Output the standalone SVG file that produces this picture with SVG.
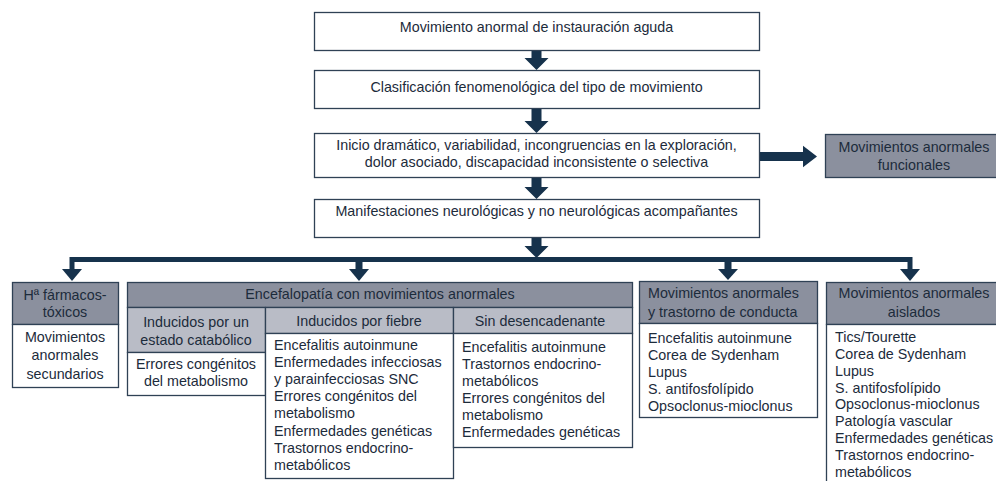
<svg xmlns="http://www.w3.org/2000/svg" width="996" height="481" viewBox="0 0 996 481">
<style>
text{font-family:"Liberation Sans",Arial,sans-serif;font-size:14.3px;fill:#1c2b3b}
.c{text-anchor:middle}
.box{fill:#fff;stroke:#2f4155;stroke-width:1.3}
.hd{fill:#8b909e;stroke:#2f4155;stroke-width:1.3}
.sh{fill:#b9bcc6;stroke:#2f4155;stroke-width:1.3}
.ar{fill:#16324c}
.ln{fill:none;stroke:#16324c;stroke-width:5;stroke-linejoin:miter}
</style>
<rect width="996" height="481" fill="#fff"/>

<g id="connectors">
<polygon class="ar" points="531.5,51 541.5,51 541.5,58 548.5,58 536.5,70 524.5,58 531.5,58"/>
<polygon class="ar" points="531.5,109 541.5,109 541.5,121 548.5,121 536.5,133 524.5,121 531.5,121"/>
<polygon class="ar" points="531.5,178 541.5,178 541.5,187 548.5,187 536.5,199 524.5,187 531.5,187"/>
<polygon class="ar" points="531.5,238 541.5,238 541.5,246 548.5,246 536.5,258 524.5,246 531.5,246"/>
<polygon class="ar" points="759,152 803,152 803,145.7 817,156.5 803,167.3 803,161 759,161"/>
<path class="ln" d="M72,270 V259.5 H910 V270"/>
<polygon class="ar" points="62,269 82,269 72,281"/>
<rect class="ar" x="355.5" y="259" width="7" height="11"/>
<polygon class="ar" points="349,269 369,269 359,281"/>
<rect class="ar" x="724.5" y="259" width="7" height="11"/>
<polygon class="ar" points="718,269 738,269 728,280"/>
<polygon class="ar" points="900,269 920,269 910,281"/>
</g>

<g id="n1">
<rect class="box" x="314.5" y="12.5" width="445" height="38"/>
<text class="c" x="536.5" y="32">Movimiento anormal de instauración aguda</text>
</g>
<g id="n2">
<rect class="box" x="314.5" y="70.5" width="445" height="38"/>
<text class="c" x="536.5" y="92">Clasificación fenomenológica del tipo de movimiento</text>
</g>
<g id="n3">
<rect class="box" x="314.5" y="133.5" width="445" height="44"/>
<text class="c" x="536.5" y="150">Inicio dramático, variabilidad, incongruencias en la exploración,</text>
<text class="c" x="536.5" y="167">dolor asociado, discapacidad inconsistente o selectiva</text>
</g>
<g id="n4">
<rect class="box" x="314.5" y="199.5" width="445" height="38"/>
<text class="c" x="536.5" y="216">Manifestaciones neurológicas y no neurológicas acompañantes</text>
</g>
<g id="funcionales">
<rect class="hd" x="825.5" y="134.5" width="180" height="43"/>
<text class="c" x="914" y="152">Movimientos anormales</text>
<text class="c" x="914" y="170">funcionales</text>
</g>

<g id="farmacos">
<rect class="hd" x="12.5" y="282.5" width="106" height="42"/>
<rect class="box" x="12.5" y="324.5" width="106" height="63"/>
<text class="c" x="65" y="300">Hª fármacos-</text>
<text class="c" x="65" y="317">tóxicos</text>
<text class="c" x="65" y="342">Movimientos</text>
<text class="c" x="65" y="360">anormales</text>
<text class="c" x="65" y="379">secundarios</text>
</g>

<g id="encefalopatia">
<rect class="hd" x="127.5" y="282.5" width="505" height="25"/>
<text class="c" x="380" y="299">Encefalopatía con movimientos anormales</text>
</g>
<g id="catabolico">
<rect class="sh" x="127.5" y="307.5" width="138" height="45"/>
<rect class="box" x="127.5" y="352.5" width="138" height="43"/>
<text class="c" x="196" y="327">Inducidos por un</text>
<text class="c" x="196" y="345">estado catabólico</text>
<text class="c" x="196" y="369">Errores congénitos</text>
<text class="c" x="196" y="386">del metabolismo</text>
</g>
<g id="fiebre">
<rect class="sh" x="265.5" y="307.5" width="188" height="26"/>
<rect class="box" x="265.5" y="333.5" width="188" height="145"/>
<text class="c" x="359" y="326">Inducidos por fiebre</text>
<text x="274" y="350">Encefalitis autoinmune</text>
<text x="274" y="367.1">Enfermedades infecciosas</text>
<text x="274" y="384.2">y parainfecciosas SNC</text>
<text x="274" y="401.3">Errores congénitos del</text>
<text x="274" y="418.4">metabolismo</text>
<text x="274" y="435.5">Enfermedades genéticas</text>
<text x="274" y="452.6">Trastornos endocrino-</text>
<text x="274" y="469.7">metabólicos</text>
</g>
<g id="sin-desencadenante">
<rect class="sh" x="453.5" y="307.5" width="179" height="26"/>
<rect class="box" x="453.5" y="333.5" width="179" height="114"/>
<text class="c" x="540" y="326">Sin desencadenante</text>
<text x="462" y="352">Encefalitis autoinmune</text>
<text x="462" y="369">Trastornos endocrino-</text>
<text x="462" y="386">metabólicos</text>
<text x="462" y="403">Errores congénitos del</text>
<text x="462" y="420">metabolismo</text>
<text x="462" y="437">Enfermedades genéticas</text>
</g>

<g id="conducta">
<rect class="hd" x="639.5" y="281.5" width="178" height="42"/>
<rect class="box" x="639.5" y="323.5" width="178" height="94"/>
<text x="648" y="298">Movimientos anormales</text>
<text x="648" y="317">y trastorno de conducta</text>
<text x="648" y="343">Encefalitis autoinmune</text>
<text x="648" y="360">Corea de Sydenham</text>
<text x="648" y="377">Lupus</text>
<text x="648" y="394">S. antifosfolípido</text>
<text x="648" y="411">Opsoclonus-mioclonus</text>
</g>

<g id="aislados">
<rect class="hd" x="826.5" y="282.5" width="180" height="42"/>
<rect class="box" x="826.5" y="324.5" width="180" height="170"/>
<text class="c" x="914" y="298">Movimientos anormales</text>
<text class="c" x="914" y="317">aislados</text>
<text x="835" y="342">Tics/Tourette</text>
<text x="835" y="359">Corea de Sydenham</text>
<text x="835" y="376">Lupus</text>
<text x="835" y="393">S. antifosfolípido</text>
<text x="835" y="409">Opsoclonus-mioclonus</text>
<text x="835" y="426">Patología vascular</text>
<text x="835" y="443">Enfermedades genéticas</text>
<text x="835" y="460">Trastornos endocrino-</text>
<text x="835" y="477">metabólicos</text>
</g>
</svg>
